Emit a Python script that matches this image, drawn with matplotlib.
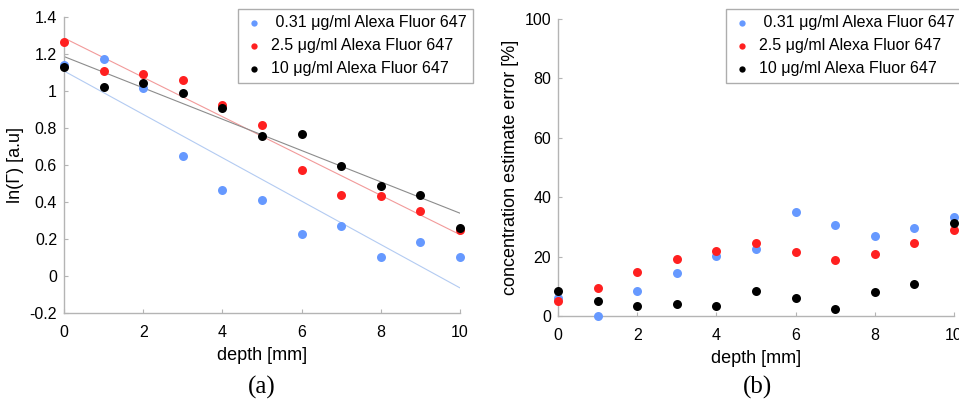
import numpy as np
import matplotlib
matplotlib.use("Agg")
import matplotlib.pyplot as plt

plt.rcParams["font.family"] = ["Liberation Sans", "DejaVu Sans"]

depth = [0, 1, 2, 3, 4, 5, 6, 7, 8, 9, 10]
labels = [" 0.31 μg/ml Alexa Fluor 647",
          "2.5 μg/ml Alexa Fluor 647",
          "10 μg/ml Alexa Fluor 647"]

# (a) ln(Gamma) per concentration
ln_low = [1.139, 1.172, 1.017, 0.649, 0.463, 0.408, 0.228, 0.271, 0.102, 0.183, 0.100]
ln_mid = [1.265, 1.107, 1.089, 1.058, 0.924, 0.814, 0.573, 0.436, 0.431, 0.348, 0.249]
ln_high = [1.127, 1.022, 1.042, 0.990, 0.907, 0.758, 0.767, 0.591, 0.483, 0.435, 0.258]

# (b) concentration estimate error [%]
err_low = [6.1, 0.0, 8.4, 14.5, 20.1, 22.7, 35.1, 30.5, 26.9, 29.7, 33.2]
err_mid = [5.1, 9.3, 14.8, 19.3, 21.8, 24.6, 21.7, 18.8, 21.0, 24.7, 29.1]
err_high = [8.5, 5.1, 3.3, 4.2, 3.5, 8.3, 6.0, 2.5, 8.1, 10.8, 31.3]

dot_colors = ["#6699ff", "#ff2020", "#000000"]
fit_colors = ["#b3cbf2", "#f29a9a", "#8c8c8c"]
spine_gray = "#b4b4b4"

fig = plt.figure(figsize=(9.59, 4.01), dpi=100)
ax1 = fig.add_axes([0.0667, 0.2195, 0.413, 0.7389])
ax2 = fig.add_axes([0.5819, 0.212, 0.4129, 0.7406])


def style(ax):
    for side in ["top", "right"]:
        ax.spines[side].set_visible(False)
    for side in ["left", "bottom"]:
        ax.spines[side].set_color(spine_gray)
        ax.spines[side].set_linewidth(1.0)
    ax.tick_params(direction="in", length=3, color=spine_gray, labelsize=11.5)
    ax.tick_params(axis="x", pad=9)
    ax.tick_params(axis="y", pad=5)
    ax.set_xlim(0, 10)
    ax.set_xticks([0, 2, 4, 6, 8, 10])


x = np.array(depth)
for ys, c, fc, lab in zip([ln_low, ln_mid, ln_high], dot_colors, fit_colors, labels):
    k, b = np.polyfit(x, ys, 1)
    ax1.plot([0, 10], [b, b + 10 * k], color=fc, lw=0.8, zorder=1)
    ax1.scatter(depth, ys, s=42, color=c, label=lab, zorder=3, clip_on=False,
                linewidths=0)
style(ax1)
ax1.set_ylim(-0.2, 1.4)
ax1.set_yticks([-0.2, 0, 0.2, 0.4, 0.6, 0.8, 1, 1.2, 1.4])
ax1.set_yticklabels(["-0.2", "0", "0.2", "0.4", "0.6", "0.8", "1", "1.2", "1.4"])
ax1.set_xlabel("depth [mm]", fontsize=13, labelpad=5)
ax1.set_ylabel("ln(Γ) [a.u]", fontsize=13, labelpad=4)

for ys, c, lab in zip([err_low, err_mid, err_high], dot_colors, labels):
    ax2.scatter(depth, ys, s=42, color=c, label=lab, zorder=3, clip_on=False,
                linewidths=0)
style(ax2)
ax2.set_ylim(0, 100)
ax2.set_yticks([0, 20, 40, 60, 80, 100])
ax2.set_xlabel("depth [mm]", fontsize=13, labelpad=5)
ax2.set_ylabel("concentration estimate error [%]", fontsize=13, labelpad=4)

for ax, lx in zip([ax1, ax2], [237.7, 725.7]):
    leg = ax.legend(loc="upper left", bbox_to_anchor=(lx / 959, 1 - 9 / 401),
                    bbox_transform=fig.transFigure, frameon=True, fancybox=False,
                    fontsize=11.5, markerscale=0.7, handletextpad=0.5,
                    borderpad=0.4, labelspacing=0.5, handlelength=1.2,
                    borderaxespad=0)
    leg.get_frame().set_edgecolor("#999999")
    leg.get_frame().set_linewidth(1.0)

fig.text(262 / 959, 1 - 387 / 401, "(a)", ha="center", va="center",
         fontsize=18, family="Liberation Serif")
fig.text(758 / 959, 1 - 387 / 401, "(b)", ha="center", va="center",
         fontsize=18, family="Liberation Serif")

fig.savefig("out.png", dpi=100)
